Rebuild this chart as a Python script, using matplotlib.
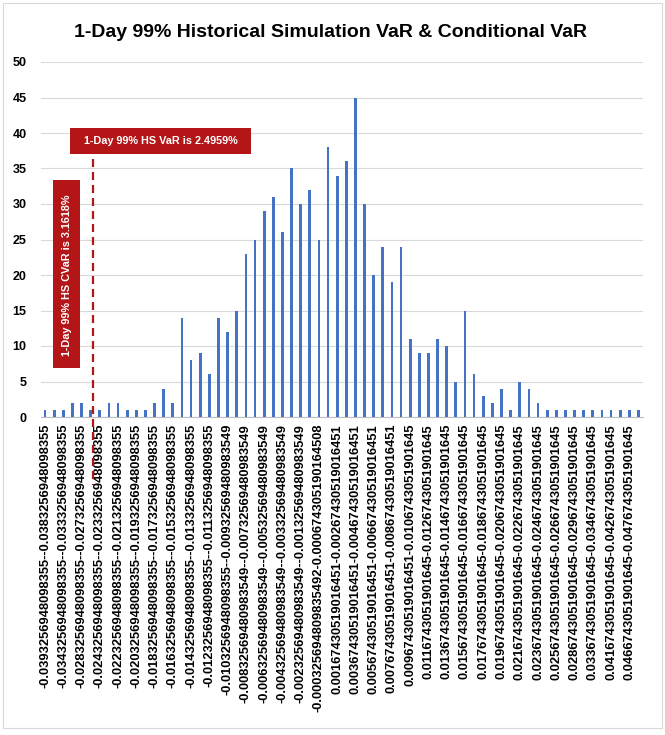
import matplotlib
matplotlib.use("Agg")
import matplotlib.pyplot as plt
from matplotlib.patches import Rectangle

# ---------------- data ----------------
bin_labels = [
    "-0.0393256948098355--0.0383256948098355",
    "-0.0363256948098355--0.0353256948098355",
    "-0.0343256948098355--0.0333256948098355",
    "-0.0303256948098355--0.0293256948098355",
    "-0.0283256948098355--0.0273256948098355",
    "-0.0253256948098355--0.0243256948098355",
    "-0.0243256948098355--0.0233256948098355",
    "-0.0233256948098355--0.0223256948098355",
    "-0.0223256948098355--0.0213256948098355",
    "-0.0213256948098355--0.0203256948098355",
    "-0.0203256948098355--0.0193256948098355",
    "-0.0193256948098355--0.0183256948098355",
    "-0.0183256948098355--0.0173256948098355",
    "-0.0173256948098355--0.0163256948098355",
    "-0.0163256948098355--0.0153256948098355",
    "-0.0153256948098355--0.0143256948098355",
    "-0.0143256948098355--0.0133256948098355",
    "-0.0133256948098355--0.0123256948098355",
    "-0.0123256948098355--0.0113256948098355",
    "-0.0113256948098355--0.0103256948098355",
    "-0.0103256948098355--0.00932569480983549",
    "-0.00932569480983549--0.00832569480983549",
    "-0.00832569480983549--0.00732569480983549",
    "-0.00732569480983549--0.00632569480983549",
    "-0.00632569480983549--0.00532569480983549",
    "-0.00532569480983549--0.00432569480983549",
    "-0.00432569480983549--0.00332569480983549",
    "-0.00332569480983549--0.00232569480983549",
    "-0.00232569480983549--0.00132569480983549",
    "-0.00132569480983549--0.000325694809835492",
    "-0.000325694809835492-0.000674305190164508",
    "0.000674305190164508-0.00167430519016451",
    "0.00167430519016451-0.00267430519016451",
    "0.00267430519016451-0.00367430519016451",
    "0.00367430519016451-0.00467430519016451",
    "0.00467430519016451-0.00567430519016451",
    "0.00567430519016451-0.00667430519016451",
    "0.00667430519016451-0.00767430519016451",
    "0.00767430519016451-0.00867430519016451",
    "0.00867430519016451-0.00967430519016451",
    "0.00967430519016451-0.0106743051901645",
    "0.0106743051901645-0.0116743051901645",
    "0.0116743051901645-0.0126743051901645",
    "0.0126743051901645-0.0136743051901645",
    "0.0136743051901645-0.0146743051901645",
    "0.0146743051901645-0.0156743051901645",
    "0.0156743051901645-0.0166743051901645",
    "0.0166743051901645-0.0176743051901645",
    "0.0176743051901645-0.0186743051901645",
    "0.0186743051901645-0.0196743051901645",
    "0.0196743051901645-0.0206743051901645",
    "0.0206743051901645-0.0216743051901645",
    "0.0216743051901645-0.0226743051901645",
    "0.0226743051901645-0.0236743051901645",
    "0.0236743051901645-0.0246743051901645",
    "0.0246743051901645-0.0256743051901645",
    "0.0256743051901645-0.0266743051901645",
    "0.0266743051901645-0.0276743051901645",
    "0.0286743051901645-0.0296743051901645",
    "0.0306743051901645-0.0316743051901645",
    "0.0336743051901645-0.0346743051901645",
    "0.0376743051901645-0.0386743051901645",
    "0.0416743051901645-0.0426743051901645",
    "0.0436743051901645-0.0446743051901645",
    "0.0466743051901645-0.0476743051901645",
    "0.0486743051901645-0.0496743051901645",
]

frequency = [1, 1, 1, 2, 2, 1, 1, 2, 2, 1, 1, 1, 2, 4, 2, 14, 8, 9, 6, 14,
             12, 15, 23, 25, 29, 31, 26, 35, 30, 32, 25, 38, 34, 36, 45, 30,
             20, 24, 19, 24, 11, 9, 9, 11, 10, 5, 15, 6, 3, 2, 4, 1, 5, 4, 2,
             1, 1, 1, 1, 1, 1, 1, 1, 1, 1, 1]

title = "1-Day 99% Historical Simulation VaR & Conditional VaR"
var_text = "1-Day 99% HS VaR is 2.4959%"
cvar_text = "1-Day 99% HS CVaR is 3.1618%"
var_line_pos = 5.22        # category position of the VaR marker
y_ticks = [0, 5, 10, 15, 20, 25, 30, 35, 40, 45, 50]

# ---------------- figure ----------------
W, H = 665, 735
fig = plt.figure(figsize=(W / 100, H / 100), dpi=100)
plt.rcParams['font.family'] = ['Liberation Sans', 'DejaVu Sans']

def fx(px):
    return px / W

def fy(py):
    return 1 - py / H

# chart border
fig.patches.append(Rectangle((fx(3), fy(728)), fx(662) - fx(3), fy(3) - fy(728),
                             transform=fig.transFigure, facecolor='none',
                             edgecolor='#D9D9D9', linewidth=0.8))

ax = fig.add_axes([fx(40.5), fy(417), fx(643) - fx(40.5), fy(62) - fy(417)])
x = list(range(len(frequency)))
ax.bar(x, frequency, width=0.3, color='#4472C4', zorder=3)
ax.set_xlim(-0.5, len(frequency) - 0.5)
ax.set_ylim(0, 50)
ax.set_yticks(y_ticks)
ax.yaxis.grid(True, color='#D9D9D9', linewidth=0.8, zorder=0)
ax.set_axisbelow(True)
for s in ['top', 'right', 'left']:
    ax.spines[s].set_visible(False)
ax.spines['bottom'].set_color('#BFBFBF')
ax.spines['bottom'].set_linewidth(0.8)

ax.set_xticks(x[::2])
ax.set_xticklabels(bin_labels[::2], rotation=90, fontsize=9.3, fontweight='bold',
                   va='top', ha='center')
ax.tick_params(axis='x', length=0, pad=5)
ax.tick_params(axis='y', length=0, pad=10)
for lab in ax.get_yticklabels():
    lab.set_fontsize(9)
    lab.set_fontweight('bold')

# VaR dashed line
ax.plot([var_line_pos, var_line_pos], [36.3, -9.6], color='#B41517', linewidth=1.6,
        dashes=(3.6, 2.25), clip_on=False, zorder=5)

red = '#B41517'
# VaR box
fig.patches.append(Rectangle((fx(70), fy(153.7)), fx(251) - fx(70), fy(128) - fy(153.7),
                             transform=fig.transFigure, facecolor=red, edgecolor='none',
                             zorder=6))
fig.text(fx(160.5), fy(141), var_text, color='white', fontsize=7.8, fontweight='bold',
         ha='center', va='center', zorder=7)
# CVaR box
fig.patches.append(Rectangle((fx(53), fy(367.7)), fx(80) - fx(53), fy(180) - fy(367.7),
                             transform=fig.transFigure, facecolor=red, edgecolor='none',
                             zorder=6))
fig.text(fx(66.5), fy(275), cvar_text, color='white', fontsize=7.8, fontweight='bold',
         ha='center', va='center', rotation=90, zorder=7)

fig.text(fx(331), fy(36.7), title, fontsize=14, fontweight='bold', ha='center',
         va='baseline')

fig.savefig('out.png', dpi=100)
